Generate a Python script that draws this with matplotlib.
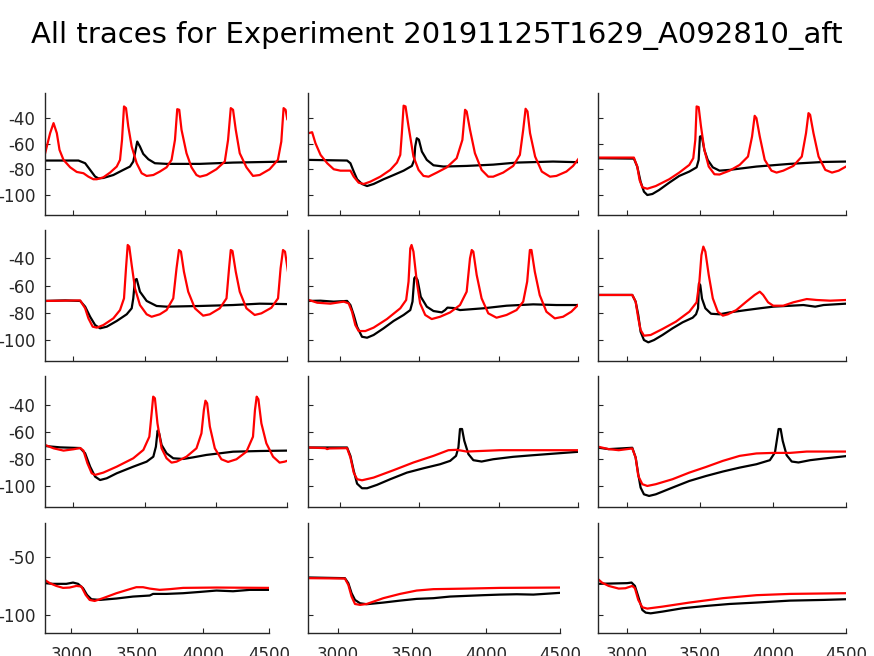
import numpy as np
import matplotlib
matplotlib.use("Agg")
import matplotlib.pyplot as plt

plt.rcParams["axes.unicode_minus"] = False

title = "All traces for Experiment 20191125T1629_A092810_aft"
x_ticks = [3000, 3500, 4000, 4500]
y_ticks_upper = [-40, -60, -80, -100]
y_ticks_lower = [-50, -100]

black_1_1 = [(2801,-73.1),(3035,-73.1),(3082,-75.2),(3117,-80.4),(3152,-85.6),(3175,-87),(3210,-86.7),(3280,-84.4),(3350,-80.4),(3397,-77.8),(3420,-73.9),(3432,-67.4),(3448,-58.3),(3467,-62.2),(3490,-67.9),(3526,-72.1),(3572,-75.2),(3654,-75.7),(3888,-75.7),(4121,-74.7),(4500,-73.9)]
red_1_1 = [(2801,-67.4),(2836,-51.7),(2860,-43.9),(2883,-51.7),(2902,-64.8),(2930,-72.6),(2977,-78.4),(3023,-82),(3070,-83),(3105,-85.7),(3140,-87.7),(3164,-87.7),(3210,-86.2),(3257,-82.5),(3304,-77.8),(3327,-72.6),(3341,-57),(3355,-30.9),(3369,-32.2),(3385,-46.5),(3409,-62.2),(3444,-75.2),(3479,-83),(3514,-85.1),(3561,-84.4),(3607,-81.7),(3654,-78.4),(3689,-72.6),(3713,-57),(3729,-33),(3743,-33.5),(3759,-49.1),(3794,-67.4),(3829,-78.4),(3864,-84.4),(3888,-85.7),(3935,-84.4),(4004,-79.9),(4063,-73.9),(4086,-57),(4105,-32.2),(4121,-33.5),(4140,-49.1),(4168,-67.4),(4215,-78.4),(4261,-85.1),(4308,-84.4),(4378,-79.9),(4436,-72.6),(4460,-58.3),(4476,-32.2),(4490,-33.5),(4502,-40.8)]

black_1_2 = [(2805,-72.6),(3046,-73.1),(3067,-75.2),(3088,-81.7),(3109,-87.7),(3140,-91.4),(3172,-93),(3213,-91.4),(3276,-87.7),(3339,-84.4),(3402,-81),(3454,-77.3),(3469,-72.6),(3475,-62.2),(3485,-55.7),(3498,-56.8),(3517,-66.1),(3548,-72.6),(3590,-76.8),(3653,-77.8),(3799,-77.3),(3966,-76.3),(4113,-74.7),(4343,-73.9),(4500,-74.4)]
red_1_2 = [(2805,-51.7),(2826,-51),(2847,-59.6),(2879,-68.7),(2921,-75.2),(2962,-79.9),(3004,-81),(3067,-81),(3088,-85.7),(3119,-90.4),(3151,-91.4),(3192,-89.6),(3255,-85.7),(3318,-80.4),(3360,-74.7),(3381,-68.7),(3391,-51.7),(3402,-30.3),(3414,-30.9),(3433,-46.5),(3464,-70),(3496,-80.4),(3527,-85.1),(3559,-85.7),(3611,-82.5),(3674,-78.4),(3736,-71.3),(3772,-57),(3789,-33.5),(3799,-34.8),(3820,-49.1),(3851,-67.4),(3893,-80.4),(3935,-85.7),(3966,-85.7),(4029,-82.5),(4092,-77.3),(4134,-68.7),(4155,-49.1),(4170,-32.7),(4182,-34.8),(4198,-51.7),(4230,-70),(4272,-81.7),(4324,-85.7),(4364,-85.1),(4427,-81.7),(4469,-77.3),(4506,-71.3)]

black_1_3 = [(2793,-71.3),(3046,-71.6),(3069,-77.8),(3092,-89.6),(3115,-97.4),(3138,-100),(3173,-99.2),(3219,-96.1),(3288,-90.4),(3357,-85.1),(3426,-81.7),(3476,-78.4),(3490,-72.6),(3499,-54.4),(3511,-54),(3529,-64.8),(3552,-72.6),(3587,-78.4),(3633,-81),(3702,-80.4),(3886,-77.8),(4116,-75.7),(4346,-74.2),(4500,-73.9)]
red_1_3 = [(2793,-70.8),(3046,-70.8),(3069,-77.8),(3085,-88.3),(3104,-94),(3138,-95.1),(3196,-93),(3288,-87.7),(3357,-82.5),(3426,-76.5),(3453,-71.3),(3467,-57),(3476,-30.9),(3490,-31.4),(3506,-46.5),(3529,-64.8),(3559,-77.8),(3598,-83.8),(3633,-84),(3702,-81),(3771,-76.5),(3828,-70),(3856,-54.4),(3874,-38.2),(3886,-40),(3909,-54.4),(3943,-72.6),(3989,-81),(4024,-82.5),(4070,-81),(4139,-77.3),(4197,-70),(4226,-51.7),(4243,-36.1),(4254,-37.4),(4277,-51.7),(4312,-70),(4358,-80.4),(4404,-82.5),(4450,-81),(4500,-77.8)]

black_2_1 = [(2801,-71.3),(2942,-70.9),(3047,-71.3),(3082,-75.5),(3117,-82.9),(3152,-89),(3187,-91.4),(3234,-90.2),(3304,-86),(3374,-81.1),(3409,-76.7),(3420,-69.4),(3432,-55.9),(3444,-55.2),(3467,-64.5),(3514,-71.3),(3584,-75),(3654,-75.5),(3888,-75),(4121,-74.3),(4308,-73.3),(4500,-73.6)]
red_2_1 = [(2801,-71.3),(3047,-70.9),(3082,-76.7),(3105,-84.1),(3135,-90.2),(3164,-90.9),(3210,-89),(3280,-84.1),(3327,-78),(3355,-69.4),(3369,-47.3),(3381,-30.2),(3392,-31.4),(3409,-44.9),(3432,-62),(3467,-74.3),(3514,-81.1),(3549,-82.9),(3607,-81.1),(3654,-78),(3701,-69.4),(3724,-47.3),(3741,-33.9),(3755,-35.1),(3776,-49.8),(3806,-64.5),(3853,-76.7),(3911,-82.1),(3958,-81.1),(4028,-76.7),(4075,-69.4),(4093,-47.3),(4105,-33.9),(4117,-34.6),(4140,-49.8),(4168,-64.5),(4215,-76.7),(4273,-81.6),(4320,-80.4),(4390,-76.3),(4437,-69.4),(4455,-47.3),(4472,-33.9),(4486,-35.1),(4507,-49.8)]

black_2_2 = [(2805,-71.3),(2878,-71.1),(2962,-71.8),(3046,-71.3),(3067,-74.3),(3088,-81.6),(3109,-90.2),(3140,-97.6),(3172,-98.3),(3213,-96.3),(3276,-91.4),(3339,-86),(3402,-81.6),(3444,-78),(3458,-71.8),(3469,-54.7),(3477,-53.5),(3490,-56),(3510,-68.2),(3548,-75.5),(3590,-78.7),(3642,-79.7),(3663,-78),(3678,-76.2),(3716,-76.5),(3757,-78),(3904,-76.7),(4050,-74.8),(4218,-73.8),(4364,-74.3),(4500,-74.3)]
red_2_2 = [(2805,-70.6),(2858,-72.6),(2941,-73.3),(3025,-71.8),(3056,-73.1),(3077,-79.2),(3098,-89),(3119,-93.4),(3161,-93.4),(3213,-90.9),(3297,-84.6),(3381,-76.7),(3418,-70.6),(3433,-57.1),(3444,-32.7),(3452,-30.2),(3464,-35.1),(3485,-57.1),(3506,-73.1),(3538,-81.6),(3579,-84.6),(3632,-82.9),(3695,-79.7),(3757,-74.3),(3799,-64.5),(3820,-40),(3831,-33.9),(3841,-35.1),(3862,-52.2),(3893,-69.4),(3935,-80.4),(3987,-83.6),(4050,-81.6),(4113,-78),(4155,-71.8),(4180,-57.1),(4197,-33.9),(4207,-33.9),(4228,-49.8),(4259,-67),(4301,-79.2),(4354,-84.1),(4406,-82.9),(4458,-79.2),(4500,-74.3)]

black_2_3 = [(2793,-66.9),(3035,-66.9),(3058,-71.8),(3076,-81.6),(3092,-93.9),(3115,-100),(3145,-101.7),(3184,-100),(3242,-96.3),(3311,-91.4),(3380,-87),(3449,-83.6),(3472,-81.1),(3486,-76.7),(3492,-58.4),(3501,-59.6),(3513,-69.6),(3536,-76.7),(3575,-80.7),(3633,-81.1),(3702,-79.7),(3817,-78),(3909,-76.7),(4001,-75.5),(4208,-74.3),(4289,-75.5),(4346,-74.3),(4500,-73.3)]
red_2_3 = [(2793,-66.9),(3035,-66.9),(3058,-71.8),(3076,-84.1),(3092,-92.6),(3115,-96.8),(3161,-96.3),(3242,-91.9),(3334,-86.5),(3426,-79.2),(3476,-72.3),(3495,-57.1),(3509,-37.6),(3522,-31.4),(3536,-35.1),(3559,-52.2),(3587,-69.4),(3621,-79.2),(3656,-82.1),(3690,-81.1),(3748,-78),(3817,-71.8),(3874,-66.9),(3909,-64.5),(3932,-66.9),(3966,-72.3),(4001,-74.8),(4070,-74.8),(4139,-72.3),(4231,-69.9),(4300,-70.6),(4392,-71.1),(4500,-70.6)]

black_3_1 = [(2801,-70.4),(2907,-71.4),(3047,-71.9),(3082,-75.8),(3117,-85.7),(3152,-93.1),(3187,-95.6),(3234,-94.3),(3304,-90.6),(3420,-85.7),(3514,-82),(3561,-78.3),(3579,-70.9),(3591,-59),(3602,-61),(3619,-69.6),(3654,-75.8),(3701,-79.5),(3771,-80),(3841,-78.8),(3934,-77),(4028,-75.8),(4121,-74.6),(4308,-74.1),(4500,-73.8)]
red_3_1 = [(2801,-69.6),(2860,-72.1),(2930,-73.8),(3000,-72.8),(3047,-71.9),(3070,-73.8),(3098,-83.2),(3128,-90.6),(3152,-91.8),(3210,-90.1),(3304,-85.7),(3420,-79.5),(3491,-73.3),(3533,-63.5),(3549,-46.2),(3560,-33.8),(3572,-35),(3590,-53.6),(3619,-72.1),(3654,-79.5),(3689,-82.7),(3724,-82),(3794,-78.3),(3864,-72.1),(3899,-61),(3916,-43.7),(3927,-36.8),(3939,-38.7),(3958,-56),(3993,-72.1),(4039,-80.2),(4086,-82.2),(4145,-80.2),(4215,-74.6),(4261,-63.5),(4275,-43.7),(4287,-33.8),(4299,-35.7),(4320,-53.6),(4355,-68.4),(4402,-78.3),(4448,-82.7),(4483,-82),(4507,-81.2)]

black_3_2 = [(2805,-71.5),(3046,-71.5),(3067,-77.7),(3088,-88.8),(3109,-98.3),(3140,-101.7),(3172,-101.7),(3234,-99.2),(3318,-95),(3423,-90.1),(3527,-86.9),(3632,-83.9),(3695,-81.4),(3732,-77.7),(3747,-71.5),(3757,-57.8),(3770,-57.8),(3784,-66.5),(3810,-76.4),(3841,-80.9),(3893,-81.9),(3966,-80.2),(4092,-78.4),(4218,-77.2),(4364,-75.9),(4500,-74.7)]
red_3_2 = [(2805,-71.5),(2910,-72),(2920,-72.7),(2935,-72.2),(3046,-72),(3067,-78.9),(3088,-90.1),(3109,-95),(3140,-95.8),(3213,-93.8),(3339,-88.3),(3464,-82.6),(3590,-77.7),(3684,-73.5),(3736,-73.2),(3799,-74.5),(3904,-74),(4008,-73.5),(4218,-73.5),(4500,-73.5)]

black_3_3 = [(2793,-71.5),(2873,-72.7),(2988,-72),(3035,-71.7),(3058,-78.9),(3076,-91.3),(3092,-101.2),(3115,-106.2),(3150,-107.4),(3196,-106.2),(3311,-101.2),(3426,-96.3),(3541,-92.6),(3656,-89.3),(3771,-86.4),(3886,-83.9),(3978,-80.9),(4013,-75.2),(4029,-64),(4038,-57.8),(4052,-57.8),(4066,-66.5),(4093,-77.2),(4128,-81.9),(4174,-82.6),(4254,-80.9),(4346,-79.7),(4500,-77.9)]
red_3_3 = [(2793,-70.7),(2873,-72.7),(2942,-73.5),(3035,-72.2),(3058,-78.9),(3076,-92.6),(3104,-98.7),(3138,-100),(3196,-98.7),(3311,-95),(3426,-90.1),(3541,-85.9),(3656,-81.4),(3771,-77.7),(3886,-75.9),(4001,-75.5),(4116,-75.5),(4231,-74.5),(4500,-74.5)]

black_4_1 = [(2798,-72.5),(2861,-73.1),(2962,-73.1),(3013,-72),(3051,-73.1),(3089,-76.9),(3119,-82.7),(3152,-86.4),(3215,-87),(3342,-85.8),(3468,-84.1),(3595,-83.2),(3620,-81.8),(3721,-81.8),(3848,-81.2),(3974,-80.1),(4101,-78.9),(4227,-79.5),(4354,-78.3),(4500,-78.3)]
red_4_1 = [(2798,-69.7),(2836,-72.5),(2886,-74.9),(2937,-76.6),(2987,-76.3),(3038,-74.9),(3076,-75.4),(3109,-82.7),(3139,-87),(3177,-87.9),(3240,-85.5),(3342,-81.2),(3443,-77.7),(3493,-76),(3544,-76),(3595,-77.2),(3670,-78.3),(3746,-77.7),(3848,-76.6),(4101,-76.3),(4500,-76.6)]

black_4_2 = [(2802,-67.6),(3049,-68.2),(3072,-72.5),(3094,-81.2),(3117,-87),(3151,-89.9),(3196,-90.7),(3308,-89.3),(3421,-87.6),(3533,-86.1),(3646,-85.5),(3758,-84.1),(3870,-83.5),(3983,-82.9),(4095,-82.4),(4208,-82.1),(4320,-82.4),(4500,-80.9)]
red_4_2 = [(2802,-68.2),(3049,-68.5),(3072,-74),(3094,-84.1),(3117,-90.5),(3151,-91.3),(3196,-90.5),(3308,-85.5),(3421,-81.8),(3533,-78.9),(3646,-77.7),(3870,-77.2),(4095,-76.6),(4500,-76.3)]

black_4_3 = [(2793,-73.1),(3000,-72.5),(3030,-72),(3053,-74.9),(3076,-84.1),(3104,-95.7),(3127,-98),(3161,-98.6),(3242,-97.1),(3380,-94.2),(3541,-92.2),(3702,-90.5),(3886,-89.3),(4116,-87.6),(4346,-87),(4500,-86.4)]
red_4_3 = [(2793,-68.2),(2827,-72),(2873,-74.9),(2942,-77.2),(2988,-76.9),(3035,-74.9),(3053,-76.9),(3076,-87),(3104,-93.4),(3138,-94.5),(3242,-92.8),(3426,-89.3),(3656,-85.5),(3886,-82.9),(4116,-81.8),(4500,-81.2)]

traces = {
    (0, 0): (black_1_1, red_1_1), (0, 1): (black_1_2, red_1_2), (0, 2): (black_1_3, red_1_3),
    (1, 0): (black_2_1, red_2_1), (1, 1): (black_2_2, red_2_2), (1, 2): (black_2_3, red_2_3),
    (2, 0): (black_3_1, red_3_1), (2, 1): (black_3_2, red_3_2), (2, 2): (black_3_3, red_3_3),
    (3, 0): (black_4_1, red_4_1), (3, 1): (black_4_2, red_4_2), (3, 2): (black_4_3, red_4_3),
}

W, H = 874, 656
fig = plt.figure(figsize=(W / 100, H / 100), dpi=100)
fig.patch.set_facecolor("white")

# axes placement in pixels (x0, x1) per column and (y0, y1) per row
cols_upper = [(45, 287), (308, 578), (598, 846)]
cols_lower = [(45, 269), (308, 560), (598, 846)]
rows = [(93, 215), (230, 361), (376, 507), (523, 633)]
ylims = [(-115.6, -20.4), (-115.4, -19.2), (-115.6, -18.5), (-115.6, -20.5)]
axc = "#262626"

for (r, c), (blk, red) in traces.items():
    x0, x1 = (cols_lower if r == 3 else cols_upper)[c]
    y0, y1 = rows[r]
    ax = fig.add_axes([x0 / W, 1 - y1 / H, (x1 - x0) / W, (y1 - y0) / H])
    b = np.array(blk).T
    rd = np.array(red).T
    ax.plot(b[0], b[1], color="black", lw=1.6, solid_joinstyle="round")
    ax.plot(rd[0], rd[1], color="red", lw=1.6, solid_joinstyle="round")
    ax.set_xlim(2800, 4500)
    ax.set_ylim(*ylims[r])
    ax.set_xticks(x_ticks)
    ax.set_yticks(y_ticks_lower if r == 3 else y_ticks_upper)
    for s in ("top", "right"):
        ax.spines[s].set_visible(False)
    for s in ("left", "bottom"):
        ax.spines[s].set_color(axc)
        ax.spines[s].set_linewidth(1.0)
    ax.tick_params(direction="in", length=3.5, width=0.8, colors=axc,
                   labelsize=12, labelcolor=axc)
    ax.tick_params(axis="y", pad=7)
    ax.tick_params(axis="x", pad=9)
    if c != 0:
        ax.set_yticklabels([])
    if r != 3:
        ax.set_xticklabels([])

fig.text(0.5, 1 - 35 / H, title, ha="center", va="center", fontsize=21, color="black")

fig.savefig("out.png", dpi=100)
